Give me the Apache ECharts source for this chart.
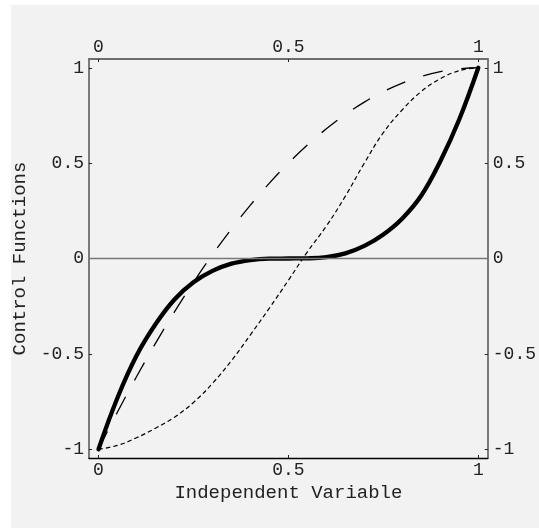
<!DOCTYPE html>
<html>
<head>
<meta charset="utf-8">
<script src="https://cdn.jsdelivr.net/npm/echarts@6/dist/echarts.min.js"></script>
<style>
  html, body { margin: 0; padding: 0; background: #ffffff; }
  #chart { width: 539px; height: 529px; }
</style>
</head>
<body>
<div id="chart"></div>
<script>
// ---- data ----
var xValues = [0, 0.05, 0.1, 0.15, 0.2, 0.25, 0.3, 0.35, 0.4, 0.45, 0.5,
               0.55, 0.6, 0.65, 0.7, 0.75, 0.8, 0.85, 0.9, 0.95, 1];
// thick solid curve
var solidValues = [-1, -0.73, -0.51, -0.345, -0.215, -0.125, -0.065, -0.027, -0.008, -0.001, 0,
                   0.001, 0.007, 0.027, 0.066, 0.126, 0.21, 0.33, 0.51, 0.73, 1];
// long-dash curve
var dashedValues = [-1, -0.805, -0.62, -0.445, -0.28, -0.125, 0.02, 0.155, 0.28, 0.395, 0.5,
                    0.595, 0.68, 0.755, 0.82, 0.875, 0.92, 0.955, 0.98, 0.995, 1];
// short-dash (dotted) curve
var dottedValues = [-1, -0.98, -0.94, -0.89, -0.832, -0.755, -0.655, -0.536, -0.40, -0.26, -0.114,
                    0.035, 0.17, 0.327, 0.50, 0.66, 0.78, 0.876, 0.943, 0.985, 1];
var xTicks = [0, 0.5, 1];
var yTicks = [-1, -0.5, 0, 0.5, 1];
var xTitle = 'Independent Variable';
var yTitle = 'Control Functions';

function pairs(ys) { return xValues.map(function (x, i) { return [x, ys[i]]; }); }
function fmt(v) { return String(Math.round(v * 100) / 100); }

var FONT = 'Liberation Mono';
var FS = 18;
var TFS = 19;
var gray = '#6e6e6e';

var chart = echarts.init(document.getElementById('chart'), null, { renderer: 'canvas' });

var labelStyle = { fontFamily: FONT, fontSize: FS, color: '#222' };

chart.setOption({
  animation: false,
  backgroundColor: '#ffffff',
  graphic: [{
    type: 'rect', z: -100, silent: true,
    shape: { x: 11, y: 5, width: 528, height: 523 },
    style: { fill: '#f2f2f2' }
  }],
  grid: { left: 89, top: 59, width: 399, height: 399, containLabel: false },
  xAxis: [{
    type: 'value', position: 'bottom', min: -0.025, max: 1.025,
    axisLine: { show: true, onZero: false, lineStyle: { color: '#000', width: 1.3 } },
    axisTick: { show: true, inside: true, length: 3, customValues: xTicks, lineStyle: { color: '#222', width: 1 } },
    axisLabel: Object.assign({ show: true, margin: 3, customValues: xTicks, formatter: fmt }, labelStyle),
    splitLine: { show: false },
    name: xTitle, nameLocation: 'middle', nameGap: 21,
    nameTextStyle: { fontFamily: FONT, fontSize: TFS, color: '#222' }
  }, {
    type: 'value', position: 'top', min: -0.025, max: 1.025,
    axisLine: { show: true, onZero: false, lineStyle: { color: gray, width: 1.8 } },
    axisTick: { show: true, inside: true, length: 3, customValues: xTicks, lineStyle: { color: '#222', width: 1 } },
    axisLabel: Object.assign({ show: true, margin: 3, customValues: xTicks, formatter: fmt }, labelStyle),
    splitLine: { show: false }
  }],
  yAxis: [{
    type: 'value', position: 'left', min: -1.046, max: 1.046,
    axisLine: { show: true, onZero: false, lineStyle: { color: gray, width: 1.8 } },
    axisTick: { show: true, inside: true, length: 3, customValues: yTicks, lineStyle: { color: '#222', width: 1 } },
    axisLabel: Object.assign({ show: true, margin: 5, customValues: yTicks, formatter: fmt }, labelStyle),
    splitLine: { show: false },
    name: yTitle, nameLocation: 'middle', nameGap: 50, nameRotate: 90,
    nameTextStyle: { fontFamily: FONT, fontSize: TFS, color: '#222' }
  }, {
    type: 'value', position: 'right', min: -1.046, max: 1.046,
    axisLine: { show: true, onZero: false, lineStyle: { color: gray, width: 1.8 } },
    axisTick: { show: true, inside: true, length: 3, customValues: yTicks, lineStyle: { color: '#222', width: 1 } },
    axisLabel: Object.assign({ show: true, margin: 5, customValues: yTicks, formatter: fmt }, labelStyle),
    splitLine: { show: false }
  }],
  series: [{
    type: 'line', data: pairs(dottedValues), xAxisIndex: 0, yAxisIndex: 0,
    showSymbol: false, smooth: 0.4, z: 2,
    lineStyle: { color: '#000', width: 1.2, type: [4.5, 3] },
    markLine: {
      silent: true, symbol: 'none', label: { show: false },
      lineStyle: { color: '#777', width: 1.3, type: 'solid' },
      data: [{ yAxis: 0 }]
    }
  }, {
    type: 'line', data: pairs(dashedValues), xAxisIndex: 0, yAxisIndex: 0,
    showSymbol: false, smooth: 0.4, z: 3,
    lineStyle: { color: '#000', width: 1.3, type: [20, 19] }
  }, {
    type: 'line', data: pairs(solidValues), xAxisIndex: 0, yAxisIndex: 0,
    showSymbol: false, smooth: 0.4, z: 4,
    lineStyle: { color: '#000', width: 4.3, cap: 'round', join: 'round' }
  }]
});
</script>
</body>
</html>
